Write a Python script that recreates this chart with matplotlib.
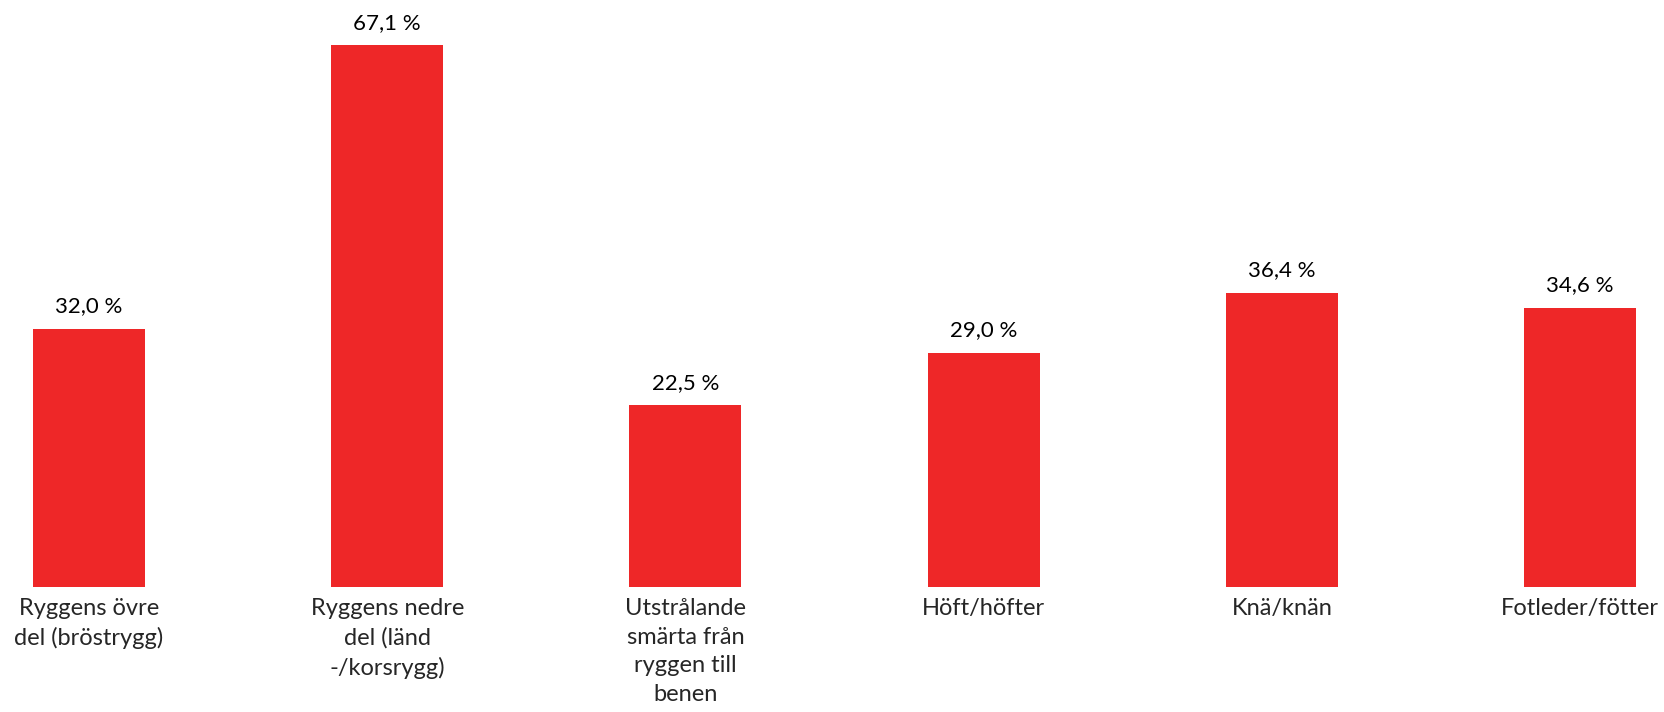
import matplotlib
matplotlib.use("Agg")
import matplotlib.pyplot as plt

plt.rcParams['font.family'] = ['Lato', 'DejaVu Sans']

categories = [
    "Ryggens övre\ndel (bröstrygg)",
    "Ryggens nedre\ndel (länd\n-/korsrygg)",
    "Utstrålande\nsmärta från\nryggen till\nbenen",
    "Höft/höfter",
    "Knä/knän",
    "Fotleder/fötter",
]
values = [32.0, 67.1, 22.5, 29.0, 36.4, 34.6]

BAR_COLOR = '#ee2728'

fig = plt.figure(figsize=(16.65, 7.12), dpi=100)
ax = fig.add_axes([0, 0.1756, 1, 0.8244])

x = range(len(values))
bars = ax.bar(x, values, width=0.376, color=BAR_COLOR)

ax.set_xlim(-0.2985, 5.285)
ax.set_ylim(0, 72.7)

# value labels above each bar
for xi, v in zip(x, values):
    ax.annotate(f"{v:.1f} %".replace('.', ','), (xi, v),
                xytext=(0, 9), textcoords='offset points',
                ha='center', va='bottom', fontsize=16, color='black')

# category labels under the bars
for xi, lab in zip(x, categories):
    ax.annotate(lab, (xi, 0), xytext=(0, -8), textcoords='offset points',
                ha='center', va='top', fontsize=17, color='#262626',
                linespacing=1.45, annotation_clip=False)

ax.axis('off')

plt.savefig('out.png', dpi=100)
plt.close()
